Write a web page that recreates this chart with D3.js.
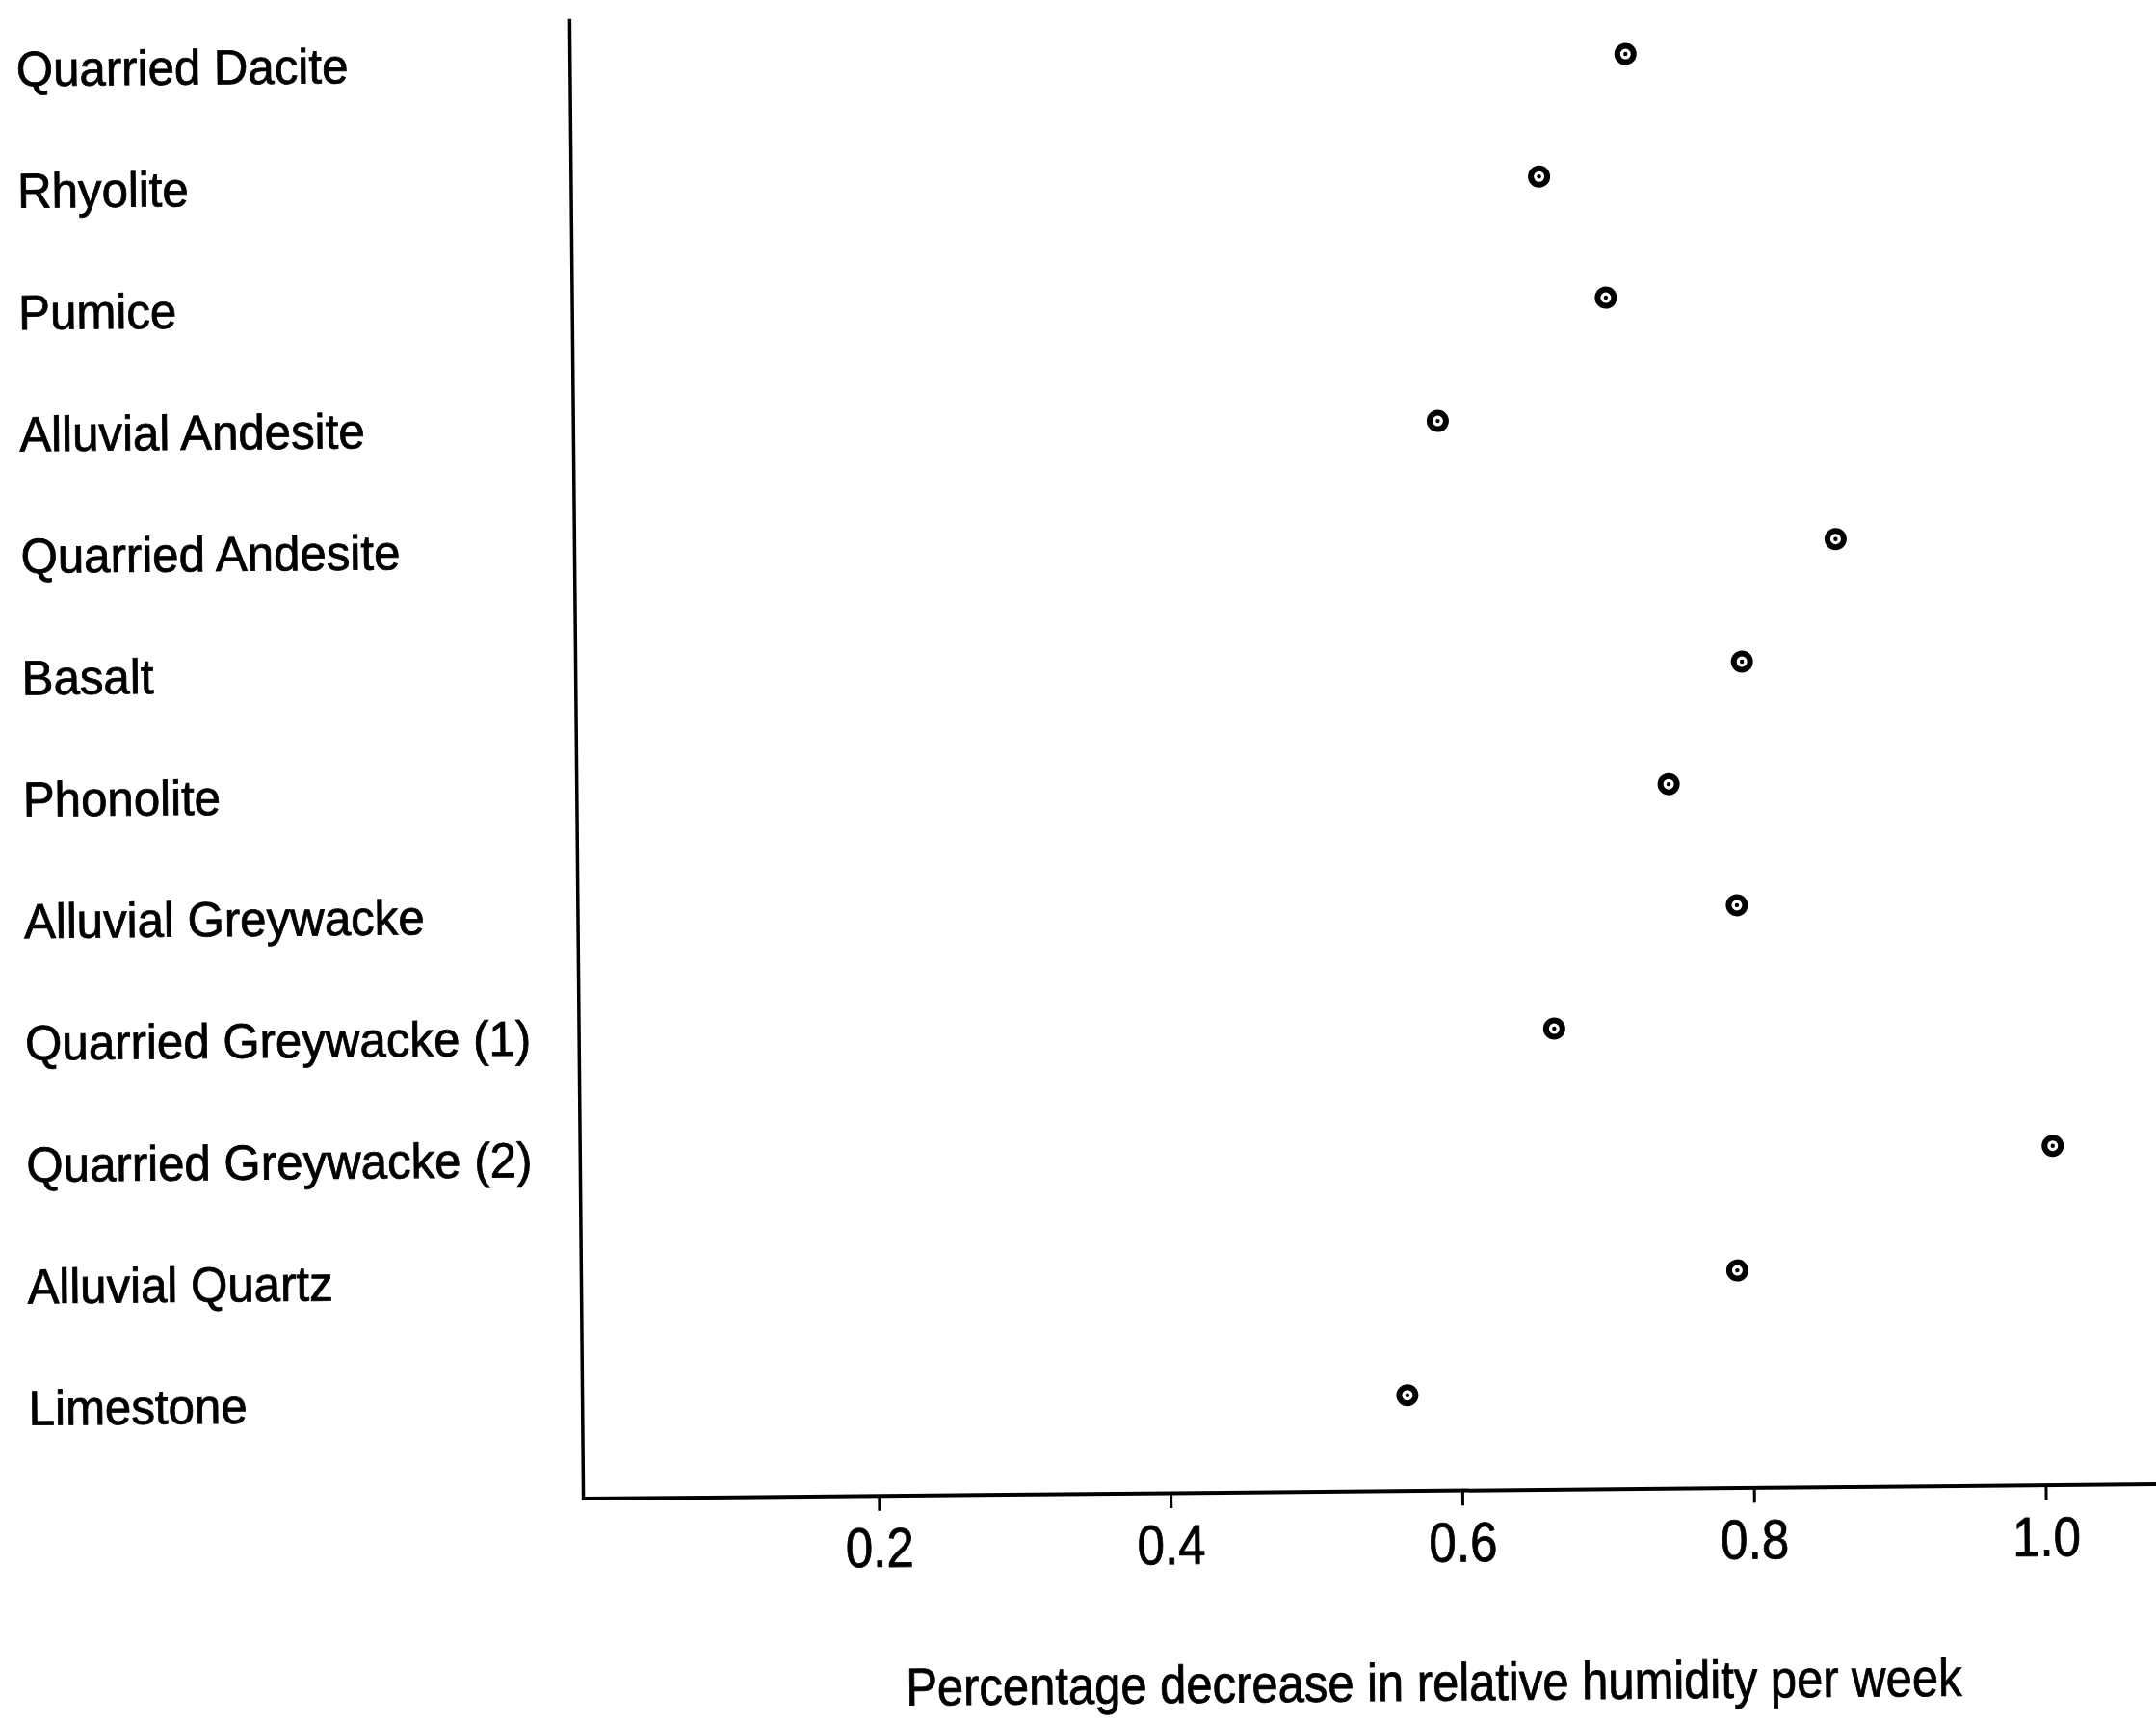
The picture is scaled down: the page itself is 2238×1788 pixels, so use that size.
<!DOCTYPE html>
<html>
<head>
<meta charset="utf-8">
<script src="https://cdn.jsdelivr.net/npm/d3@7"></script>
<style>
  body { margin: 0; background: #fff; }
  svg { display: block; font-family: "Liberation Sans", Arial, Helvetica, sans-serif; }
</style>
</head>
<body>
<svg id="chart" width="2238" height="1788"></svg>
<script>
// rock types, top to bottom
const categories = [
  "Quarried Dacite",
  "Rhyolite",
  "Pumice",
  "Alluvial Andesite",
  "Quarried Andesite",
  "Basalt",
  "Phonolite",
  "Alluvial Greywacke",
  "Quarried Greywacke (1)",
  "Quarried Greywacke (2)",
  "Alluvial Quartz",
  "Limestone"
];

// percentage decrease in relative humidity per week
const values = [0.721, 0.661, 0.706, 0.590, 0.862, 0.797, 0.746, 0.792, 0.666, 1.007, 0.790, 0.563];

const xTicks = [0.2, 0.4, 0.6, 0.8, 1.0];
const xTitle = "Percentage decrease in relative humidity per week";

const width = 2238;
const height = 1788;
const baseline = 1548;
const axisTop = 12;

const svg = d3.select("#chart");

svg.append("rect")
  .attr("width", width)
  .attr("height", height)
  .attr("fill", "#fff");

// the scan is slightly skewed, so the whole drawing is turned a bit
const g = svg.append("g")
  .attr("transform", "rotate(-0.53, 1430, 1600)");

const xScale = d3.scaleLinear()
  .domain([-0.0026, 1.0826])
  .range([606, 606 + 1514 * 1.0852]);

const yScale = d3.scalePoint()
  .domain(categories)
  .range([58.5, 1449]);

/**
 * Draws the x axis along the bottom of the plot
 */
function drawXAxis() {
  const axis = g.append("g")
    .attr("class", "x-axis")
    .attr("transform", "translate(0," + baseline + ")")
    .call(d3.axisBottom(xScale)
      .tickValues(xTicks)
      .tickFormat(d3.format(".1f"))
      .tickSize(16)
      .tickSizeOuter(0)
      .tickPadding(17));

  axis.select(".domain")
    .attr("stroke", "#000")
    .attr("stroke-width", 4);

  axis.selectAll(".tick line")
    .attr("stroke", "#000")
    .attr("stroke-width", 3);

  // squeezed a little, the scanned digits are narrow
  axis.selectAll(".tick text")
    .attr("font-family", "Liberation Sans, Arial, sans-serif")
    .attr("font-size", 58)
    .attr("fill", "#000")
    .attr("stroke", "#000")
    .attr("stroke-width", 0.8)
    .attr("transform", "scale(0.88,1)");

  g.append("text")
    .attr("class", "x-title")
    .attr("transform", "translate(1487," + 1747 + ") scale(0.89,1)")
    .attr("text-anchor", "middle")
    .attr("dy", "0.35em")
    .attr("font-size", 55)
    .attr("fill", "#000")
    .attr("stroke", "#000")
    .attr("stroke-width", 0.8)
    .text(xTitle);
}

/**
 * Draws the plain vertical axis line and the category names
 */
function drawYAxis() {
  g.append("line")
    .attr("x1", xScale.range()[0])
    .attr("x2", xScale.range()[0])
    .attr("y1", axisTop)
    .attr("y2", baseline + 2)
    .attr("stroke", "#000")
    .attr("stroke-width", 3.5);

  g.selectAll(".cat-label")
    .data(categories)
    .join("text")
    .attr("class", "cat-label")
    .attr("transform", (d) => "translate(31," + yScale(d) + ") scale(0.965,1)")
    .attr("dy", "0.35em")
    .attr("font-size", 51)
    .attr("fill", "#000")
    .attr("stroke", "#000")
    .attr("stroke-width", 0.8)
    .text((d) => d);
}

/**
 * Draws one ringed dot per rock type
 */
function drawPoints() {
  const pts = g.selectAll(".pt")
    .data(categories)
    .join("g")
    .attr("class", "pt")
    .attr("transform", (d, i) => "translate(" + xScale(values[i]) + "," + yScale(d) + ")");

  pts.append("circle")
    .attr("r", 8.5)
    .attr("fill", "#fff")
    .attr("stroke", "#000")
    .attr("stroke-width", 6);

  pts.append("circle")
    .attr("r", 2.2)
    .attr("fill", "#000");
}

drawXAxis();
drawYAxis();
drawPoints();
</script>
</body>
</html>
